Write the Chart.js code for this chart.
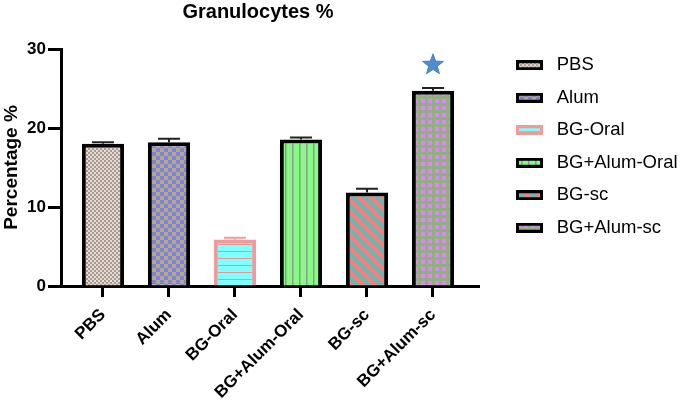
<!DOCTYPE html>
<html>
<head>
<meta charset="utf-8">
<script src="https://cdn.jsdelivr.net/npm/chart.js@4.4.1/dist/chart.umd.min.js"></script>
<style>
  html, body { margin: 0; padding: 0; background: #fff; }
</style>
</head>
<body>
<canvas id="chart" width="685" height="402"></canvas>
<script>
// values
const groups = ['PBS', 'Alum', 'BG-Oral', 'BG+Alum-Oral', 'BG-sc', 'BG+Alum-sc'];
const means = [18.0, 18.2, 5.9, 18.55, 11.85, 24.7];
const sems = [0.2, 0.45, 0.2, 0.25, 0.45, 0.35];
const yTicks = [0, 10, 20, 30];
// significance star above BG+Alum-sc
const starIndex = 5;
const starValue = 28.0;

const FONT = "'Liberation Sans', Arial, sans-serif";

// fill painters, one per group
const painters = [
    (g) => {
        g.fillStyle = '#f3d9bc'; g.fillRect(0, 0, 4, 4);
        g.fillStyle = '#9c9ca8'; g.fillRect(0, 0, 2, 2); g.fillRect(2, 2, 2, 2);
    },
    (g) => {
        g.fillStyle = '#b3ab7e'; g.fillRect(0, 0, 8, 8);
        g.fillStyle = '#7f7fe8'; g.fillRect(0, 0, 4, 4); g.fillRect(4, 4, 4, 4);
    },
    (g) => {
        g.fillStyle = '#80ffff'; g.fillRect(0, 0, 7, 7);
        g.fillStyle = '#e49494'; g.fillRect(0, 6, 7, 1);
    },
    (g) => {
        g.fillStyle = '#80ff80'; g.fillRect(0, 0, 7, 7);
        g.fillStyle = '#a48ca4'; g.fillRect(5, 0, 1.5, 7);
    },
    (g) => {
        g.fillStyle = '#f28080'; g.fillRect(0, 0, 12, 12);
        g.strokeStyle = '#6fb5ae'; g.lineWidth = 4.2;
        g.beginPath();
        g.moveTo(-6, -6); g.lineTo(18, 18);
        g.moveTo(-18, -6); g.lineTo(6, 18);
        g.moveTo(6, -6); g.lineTo(30, 18);
        g.stroke();
    },
    (g) => {
        g.fillStyle = '#92ae82'; g.fillRect(0, 0, 7, 7);
        g.fillStyle = '#d88af0'; g.fillRect(1, 1, 4, 4);
    }
];
const tileSizes = [4, 8, 7, 7, 12, 7];
const borders = ['#000', '#000', '#f29a9a', '#000', '#000', '#000'];

function makeTile(i) {
    const t = document.createElement('canvas');
    t.width = tileSizes[i];
    t.height = tileSizes[i];
    painters[i](t.getContext('2d'));
    return t;
}
const patterns = groups.map((g, i) => document.createElement('canvas').getContext('2d').createPattern(makeTile(i), 'repeat'));

// small framed swatch used as legend symbol
function makeSwatch(i) {
    const c = document.createElement('canvas');
    c.width = 27;
    c.height = 10;
    const g = c.getContext('2d');
    g.fillStyle = g.createPattern(makeTile(i), 'repeat');
    g.fillRect(0, 0, 27, 10);
    g.strokeStyle = borders[i];
    g.lineWidth = 3;
    g.strokeRect(1.5, 1.5, 24, 7);
    return c;
}
const swatches = groups.map((g, i) => makeSwatch(i));

// error bars (upper half only, like the figure)
const errorBars = {
    id: 'errorBars',
    afterDatasetsDraw(chart) {
        const { ctx, scales: { x, y } } = chart;
        ctx.save();
        ctx.lineWidth = 2;
        means.forEach((m, i) => {
            const px = x.getPixelForValue(i);
            const top = y.getPixelForValue(m + sems[i]);
            const base = y.getPixelForValue(m);
            ctx.strokeStyle = i === 2 ? '#f29a9a' : '#222';
            ctx.beginPath();
            ctx.moveTo(px, base);
            ctx.lineTo(px, top);
            ctx.moveTo(px - 11, top);
            ctx.lineTo(px + 11, top);
            ctx.stroke();
        });
        ctx.restore();
    }
};

const starMark = {
    id: 'starMark',
    afterDatasetsDraw(chart) {
        const { ctx, scales: { x, y } } = chart;
        const cx = x.getPixelForValue(starIndex);
        const cy = y.getPixelForValue(starValue);
        const outer = 11, inner = 4.6;
        ctx.save();
        ctx.beginPath();
        for (let k = 0; k < 10; k++) {
            const r = k % 2 === 0 ? outer : inner;
            const a = -Math.PI / 2 + k * Math.PI / 5;
            const px = cx + r * Math.cos(a);
            const py = cy + r * Math.sin(a);
            if (k === 0) ctx.moveTo(px, py); else ctx.lineTo(px, py);
        }
        ctx.closePath();
        ctx.fillStyle = '#4f8dcc';
        ctx.fill();
        ctx.strokeStyle = '#3d73a8';
        ctx.lineWidth = 0.8;
        ctx.stroke();
        ctx.restore();
    }
};

// nudge the title and legend to where the figure has them
const placeBoxes = {
    id: 'placeBoxes',
    afterLayout(chart) {
        const lg = chart.legend;
        if (lg) {
            lg.left = 497.5;
            lg.right = 685;
            lg.top = 42;
            lg.bottom = 402;
        }
        const t = chart.titleBlock;
        if (t) {
            const w = t.right - t.left;
            t.left = 258 - w / 2;
            t.right = 258 + w / 2;
        }
    }
};

new Chart(document.getElementById('chart'), {
    type: 'bar',
    data: {
        datasets: [{
            label: 'Granulocytes %',
            data: groups.map((g, i) => ({ x: i, y: means[i] })),
            backgroundColor: patterns,
            borderColor: borders,
            borderWidth: 4,
            borderSkipped: 'start',
            barPercentage: 0.64,
            categoryPercentage: 1
        }]
    },
    options: {
        responsive: false,
        animation: false,
        layout: { padding: { left: 0, right: 46.33, top: 0, bottom: 0 } },
        plugins: {
            title: {
                display: true,
                text: 'Granulocytes %',
                color: '#000',
                font: { family: FONT, size: 20, weight: 'bold' },
                padding: { top: 0, bottom: 25 }
            },
            legend: {
                display: true,
                position: 'right',
                align: 'start',
                labels: {
                    color: '#000',
                    font: { family: FONT, size: 18.5 },
                    usePointStyle: true,
                    pointStyleWidth: 36,
                    boxHeight: 10,
                    padding: 14,
                    generateLabels: () => groups.map((g, i) => ({
                        text: g,
                        pointStyle: swatches[i],
                        fillStyle: patterns[i],
                        strokeStyle: borders[i],
                        lineWidth: 0,
                        hidden: false,
                        index: i,
                        datasetIndex: 0
                    }))
                }
            },
            tooltip: { enabled: false }
        },
        scales: {
            x: {
                type: 'linear',
                offset: false,
                min: -0.636,
                max: 5.697,
                afterFit: (scale) => { scale.height = 116; },
                afterBuildTicks: (scale) => { scale.ticks = groups.map((g, i) => ({ value: i })); },
                border: { display: true, color: '#000', width: 3 },
                grid: { offset: false, drawOnChartArea: false, drawTicks: true, tickLength: 11, tickWidth: 3, tickColor: '#000' },
                ticks: {
                    autoSkip: false,
                    minRotation: 45,
                    maxRotation: 45,
                    padding: 8,
                    color: '#000',
                    font: { family: FONT, size: 17, weight: 'bold' },
                    callback: (v) => groups[v]
                }
            },
            y: {
                min: 0,
                max: 30,
                afterFit: (scale) => { scale.width = 61; },
                afterBuildTicks: (scale) => { scale.ticks = yTicks.map(v => ({ value: v })); },
                border: { display: true, color: '#000', width: 3 },
                grid: { drawOnChartArea: false, drawTicks: true, tickLength: 13, tickWidth: 3, tickColor: '#000' },
                ticks: {
                    padding: 2,
                    color: '#000',
                    font: { family: FONT, size: 17, weight: 'bold' }
                },
                title: {
                    display: true,
                    text: 'Percentage %',
                    color: '#000',
                    padding: 0,
                    font: { family: FONT, size: 19, weight: 'bold' }
                }
            }
        }
    },
    plugins: [errorBars, starMark, placeBoxes]
});
</script>
</body>
</html>
